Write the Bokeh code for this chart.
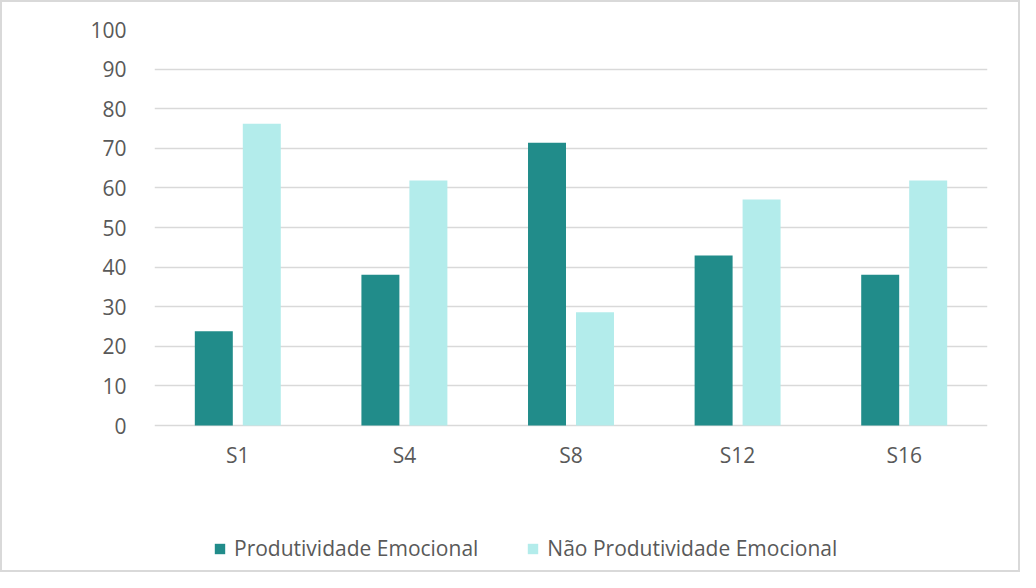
from bokeh.plotting import figure
from bokeh.models import ColumnDataSource, FactorRange, Legend, LegendItem, FixedTicker
from bokeh.transform import dodge
from bokeh.core.properties import value
from bokeh.embed import file_html
from bokeh.resources import INLINE

categories = ["S1", "S4", "S8", "S12", "S16"]
produtividade = [23.8, 38.1, 71.4, 42.9, 38.1]
nao_produtividade = [76.2, 61.9, 28.6, 57.1, 61.9]
series_names = ["Produtividade Emocional", "Não Produtividade Emocional"]
y_ticks = [0, 10, 20, 30, 40, 50, 60, 70, 80, 90, 100]
colors = ["#218C8A", "#B3ECEB"]

FONT = "Open Sans"
TXT = "#595959"
GRID = "#D9D9D9"
FS = "21px"
LFS = "21px"

source = ColumnDataSource(dict(cat=categories, p=produtividade, n=nao_produtividade,
                               base=[0] * len(categories)))

# frame extends down to the bottom so the category labels and legend can live inside it
p = figure(x_range=FactorRange(*categories, range_padding=0), y_range=(-35.1, 100),
           width=1020, height=572, output_backend="svg", toolbar_location=None,
           min_border_left=152, min_border_right=35, min_border_top=27, min_border_bottom=10)

r1 = p.vbar(x=dodge("cat", -0.144, range=p.x_range), top="p", width=0.228, source=source,
            fill_color=colors[0], line_color=None)
r2 = p.vbar(x=dodge("cat", 0.144, range=p.x_range), top="n", width=0.228, source=source,
            fill_color=colors[1], line_color=None)

# category labels under the baseline
p.text(x="cat", y="base", text="cat", source=source, y_offset=15,
       text_align="center", text_baseline="top", text_font=value(FONT),
       text_font_size=FS, text_color=TXT)

p.border_fill_color = "white"
p.background_fill_color = "white"
p.outline_line_color = None

# y axis
p.yaxis.ticker = FixedTicker(ticks=y_ticks)
p.yaxis.axis_line_color = None
p.yaxis.major_tick_line_color = None
p.yaxis.minor_tick_line_color = None
p.yaxis.major_label_text_font = FONT
p.yaxis.major_label_text_font_size = FS
p.yaxis.major_label_text_color = TXT
p.yaxis.major_label_standoff = 22

p.xaxis.visible = False
p.xgrid.grid_line_color = None
p.ygrid.ticker = FixedTicker(ticks=y_ticks)
p.ygrid.grid_line_color = GRID
p.ygrid.grid_line_width = 1.5

legend = Legend(items=[LegendItem(label=series_names[0], renderers=[r1]),
                       LegendItem(label=series_names[1], renderers=[r2])],
                orientation="horizontal", location=(59, 2),
                glyph_width=13, glyph_height=13,
                label_text_font=FONT,
                label_text_font_size=LFS, label_text_color=TXT,
                spacing=48, label_standoff=8, padding=4, margin=0,
                border_line_color=None, background_fill_alpha=0)
p.add_layout(legend, "center")

p.styles = {"border": "2px solid #D9D9D9", "box-sizing": "border-box"}

with open("out.html", "w") as f:
    f.write(file_html(p, INLINE))
